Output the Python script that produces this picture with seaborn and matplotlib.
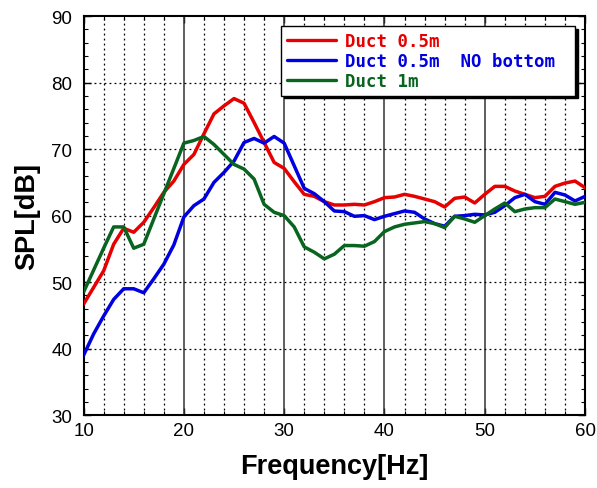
import numpy as np
import pandas as pd
import matplotlib
matplotlib.use("Agg")
import matplotlib.pyplot as plt
from matplotlib.ticker import MultipleLocator
import seaborn as sns

# Frequency axis (Hz), 1 Hz steps
freq = list(range(10, 61))

# SPL readings (dB) for each configuration
duct_05 = [46.7, 49.2, 51.7, 55.7, 58.1, 57.5, 59.0, 61.2, 63.5, 65.2,
           67.7, 69.2, 72.3, 75.3, 76.5, 77.6, 76.9, 74.0, 71.0, 68.0,
           67.1, 65.1, 63.2, 62.9, 62.1, 61.6, 61.6, 61.7, 61.6, 62.1,
           62.7, 62.8, 63.2, 62.9, 62.5, 62.1, 61.3, 62.6, 62.8, 61.9,
           63.2, 64.4, 64.4, 63.7, 63.2, 62.7, 62.9, 64.4, 64.9, 65.2,
           64.2]
duct_05_nobottom = [39.0, 42.2, 44.9, 47.4, 49.0, 49.0, 48.4, 50.5, 52.7, 55.6,
                    59.8, 61.5, 62.5, 65.0, 66.5, 68.2, 71.0, 71.6, 70.9, 71.9,
                    70.9, 67.5, 64.1, 63.3, 62.1, 60.7, 60.6, 59.9, 60.0, 59.4,
                    59.9, 60.3, 60.7, 60.5, 59.5, 58.8, 58.4, 59.9, 60.0, 60.2,
                    60.1, 60.5, 61.5, 62.7, 63.2, 62.1, 61.7, 63.5, 63.1, 62.2,
                    62.9]
duct_1 = [48.5, 51.8, 55.1, 58.3, 58.3, 55.1, 55.7, 59.5, 63.3, 67.1,
          70.9, 71.3, 71.9, 70.7, 69.2, 67.7, 67.0, 65.5, 61.7, 60.5,
          60.0, 58.3, 55.3, 54.5, 53.5, 54.2, 55.5, 55.5, 55.4, 56.1,
          57.6, 58.3, 58.7, 58.9, 59.1, 58.8, 58.2, 59.9, 59.5, 59.0,
          60.0, 61.0, 61.9, 60.6, 61.0, 61.2, 61.2, 62.5, 62.1, 61.7,
          62.0]

labels = ["Duct 0.5m", "Duct 0.5m  NO bottom", "Duct 1m"]
colors = ["#e60000", "#0000e0", "#08641e"]

x_ticks = [10, 20, 30, 40, 50, 60]
y_ticks = [30, 40, 50, 60, 70, 80, 90]

df = pd.DataFrame({
    "Frequency": freq * 3,
    "SPL": duct_05 + duct_05_nobottom + duct_1,
    "Series": [labels[0]] * len(freq) + [labels[1]] * len(freq) + [labels[2]] * len(freq),
})

sns.set_style("white")
plt.rcParams["font.family"] = ["Liberation Sans", "DejaVu Sans"]
plt.rcParams["text.color"] = "black"
plt.rcParams["axes.labelcolor"] = "black"
plt.rcParams["xtick.color"] = "black"
plt.rcParams["ytick.color"] = "black"

fig = plt.figure(figsize=(5.97, 4.89), dpi=100)
ax = fig.add_axes([0.140, 0.149, 0.840, 0.816])

# grid: solid verticals every 10 Hz, dotted verticals every 2 Hz, dotted horizontals every 10 dB
for xv in np.arange(12, 60, 2):
    if xv % 10 == 0:
        ax.axvline(xv, color="#333333", lw=1.1, ls="-", zorder=1)
    else:
        ax.axvline(xv, color="black", lw=0.9, ls=(0, (1.5, 2.5)), zorder=1)
for yv in y_ticks[1:-1]:
    ax.axhline(yv, color="black", lw=0.9, ls=(0, (1.5, 2.5)), zorder=1)

sns.lineplot(data=df, x="Frequency", y="SPL", hue="Series",
             palette=dict(zip(labels, colors)), hue_order=labels,
             linewidth=2.5, ax=ax, legend=False, zorder=3)

ax.set_xlim(10, 60)
ax.set_ylim(30, 90)
ax.set_xticks(x_ticks)
ax.set_yticks(y_ticks)
ax.xaxis.set_minor_locator(MultipleLocator(2))
ax.yaxis.set_minor_locator(MultipleLocator(2))
ax.tick_params(which="both", direction="in", top=True, right=True,
               bottom=True, left=True, colors="black", labelcolor="black")
ax.tick_params(which="major", length=5, width=1.0, labelsize=13.5)
ax.tick_params(which="minor", length=3, width=0.8)
ax.tick_params(axis="y", which="major", pad=8)
ax.tick_params(axis="x", which="major", pad=5)
for s in ax.spines.values():
    s.set_color("black")
    s.set_linewidth(1.5)

ax.set_xlabel("Frequency[Hz]", fontsize=19.5, fontweight="bold", labelpad=10, color="black")
ax.set_ylabel("SPL[dB]", fontsize=19.5, fontweight="bold", labelpad=8, color="black")

handles = [plt.Line2D([], [], color=c, lw=2.4) for c in colors]
leg = ax.legend(handles, labels, loc="upper left",
                bbox_to_anchor=(0.394, 0.0, 0.586, 0.975), mode="expand",
                borderaxespad=0, frameon=True, fancybox=False,
                shadow={"color": "black", "alpha": 1.0},
                prop={"family": "DejaVu Sans Mono", "weight": "bold", "size": 12.5},
                handlelength=2.8, handletextpad=0.5, labelspacing=0.1,
                borderpad=0.35)
leg.get_frame().set_edgecolor("black")
leg.get_frame().set_linewidth(1.0)
for t, c in zip(leg.get_texts(), colors):
    t.set_color(c)
leg.set_zorder(5)

fig.savefig("out.png", dpi=100)
